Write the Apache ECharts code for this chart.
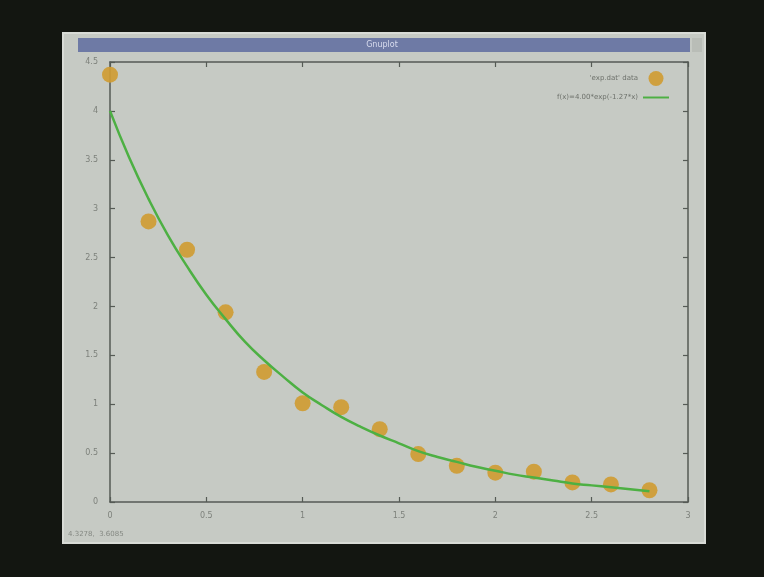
<!DOCTYPE html>
<html><head><meta charset="utf-8">
<script src="https://cdn.jsdelivr.net/npm/echarts@6/dist/echarts.min.js"></script>
<style>html,body{margin:0;padding:0;background:#131611;}#c{width:764px;height:577px;}</style>
</head><body><div id="c"></div>
<script>
// measured data points
const dataX = [0, 0.2, 0.4, 0.6, 0.8, 1.0, 1.2, 1.4, 1.6, 1.8, 2.0, 2.2, 2.4, 2.6, 2.8];
const dataY = [4.37, 2.87, 2.58, 1.94, 1.33, 1.01, 0.97, 0.745, 0.49, 0.37, 0.30, 0.31, 0.20, 0.18, 0.12];
// fitted curve
const fitX = [0,0.1,0.2,0.3,0.4,0.5,0.6,0.7,0.8,0.9,1.0,1.1,1.2,1.3,1.4,1.5,1.6,1.7,1.8,1.9,2.0,2.1,2.2,2.3,2.4,2.5,2.6,2.7,2.8];
const fitY = [4.00,3.52,3.10,2.73,2.41,2.12,1.87,1.64,1.45,1.28,1.12,0.99,0.87,0.77,0.68,0.60,0.52,0.46,0.41,0.36,0.32,0.28,0.25,0.22,0.19,0.17,0.15,0.13,0.11];
const xTicks = ['0','0.5','1','1.5','2','2.5','3'];
const yTicks = ['0','0.5','1','1.5','2','2.5','3','3.5','4','4.5'];
const seriesNames = ["'exp.dat' data", "f(x)=4.00*exp(-1.27*x)"];
const windowTitle = 'Gnuplot';
const statusText = '4.3278,  3.6085';

const chart = echarts.init(document.getElementById('c'), null, {renderer:'canvas'});
const labelStyle = {color:'#7d817b', fontSize:8, fontFamily:'DejaVu Sans'};
const axisLine = {show:true, onZero:false, lineStyle:{color:'#555a55', width:1.5}};
const tick = {show:true, inside:true, length:5, lineStyle:{color:'#555a55', width:1.2}};
chart.setOption({
  backgroundColor:'#131611',
  animation:false,
  graphic:[
    {type:'rect', z:-10, shape:{x:63,y:33,width:642,height:510}, style:{fill:'#c6cac4', stroke:'#d8dbd6', lineWidth:2}},
    {type:'rect', z:-9, shape:{x:78,y:38,width:612,height:14}, style:{fill:'#6e7aa5'}},
    {type:'rect', z:-9, shape:{x:692,y:38,width:10,height:14}, style:{fill:'#b9bdb7'}},
    {type:'text', z:-8, left:'center', top:41, style:{text:windowTitle, fill:'#d8dcee', font:'8px DejaVu Sans'}},
    {type:'text', z:-8, left:68, top:531, style:{text:statusText, fill:'#858983', font:'7px DejaVu Sans'}}
  ],
  grid:{left:110, right:76, top:62, bottom:75, show:false},
  legend:{
    orient:'vertical', right:90, top:66, align:'right', itemGap:8,
    itemWidth:26, itemHeight:15,
    textStyle:{color:'#6d716b', fontSize:7, fontFamily:'DejaVu Sans'},
    data:[{name:seriesNames[0], icon:'circle'}, {name:seriesNames[1], icon:'path://M0 0H40V3H0Z'}]
  },
  xAxis:[
    {type:'value', min:0, max:3, interval:0.5, position:'bottom',
     axisLine:axisLine, axisTick:tick, splitLine:{show:false},
     axisLabel:Object.assign({margin:10, formatter:(v)=>xTicks[Math.round(v*2)]}, labelStyle)},
    {type:'value', min:0, max:3, interval:0.5, position:'top',
     axisLine:axisLine, axisTick:tick, splitLine:{show:false}, axisLabel:{show:false}}
  ],
  yAxis:[
    {type:'value', min:0, max:4.5, interval:0.5, position:'left',
     axisLine:axisLine, axisTick:tick, splitLine:{show:false},
     axisLabel:Object.assign({margin:12, formatter:(v)=>yTicks[Math.round(v*2)]}, labelStyle)},
    {type:'value', min:0, max:4.5, interval:0.5, position:'right',
     axisLine:axisLine, axisTick:tick, splitLine:{show:false}, axisLabel:{show:false}}
  ],
  series:[
    {name:seriesNames[1], type:'line', smooth:true, showSymbol:false, symbol:'none',
     data:fitX.map((x,i)=>[x,fitY[i]]),
     lineStyle:{color:'#4db043', width:2.5}, itemStyle:{color:'#4db043'}, z:3},
    {name:seriesNames[0], type:'scatter', symbol:'circle', symbolSize:16,
     data:dataX.map((x,i)=>[x,dataY[i]]),
     itemStyle:{color:'#cf9c33', opacity:0.92}, z:2}
  ]
});
</script></body></html>
